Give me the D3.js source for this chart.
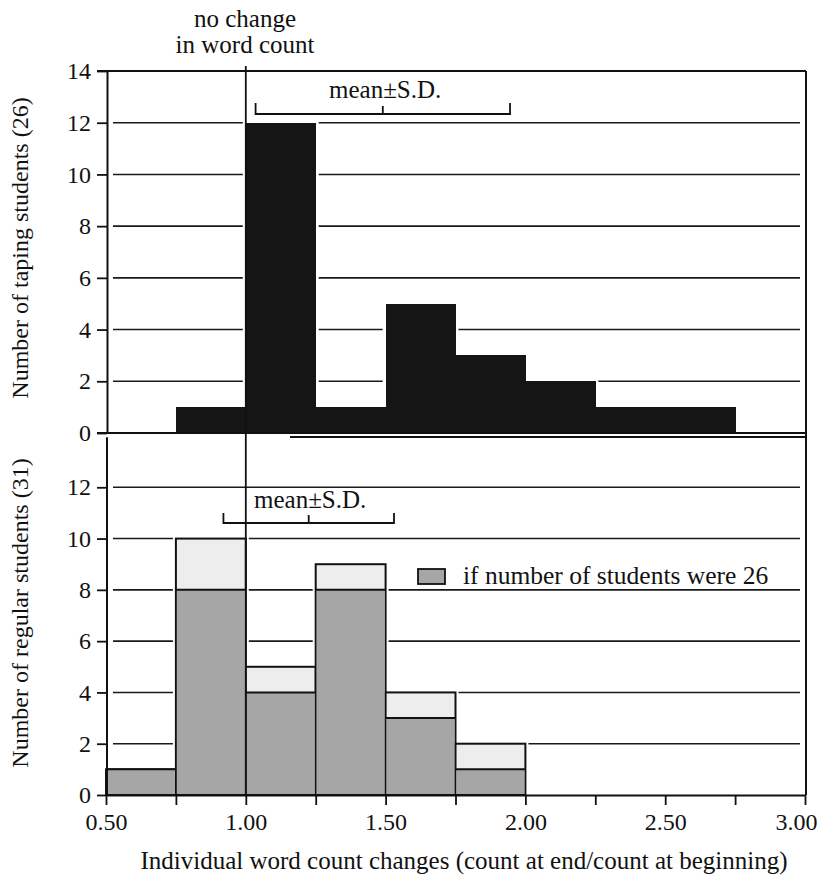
<!DOCTYPE html>
<html>
<head>
<meta charset="utf-8">
<script src="https://cdn.jsdelivr.net/npm/d3@7"></script>
<style>
  body { margin: 0; background: #fff; }
  svg { display: block; font-family: 'Liberation Serif', 'DejaVu Serif', serif; }
</style>
</head>
<body>
<svg></svg>
<script>
const width = 820
const height = 877

// bins of 0.25 from 0.50 to 3.00
const binEdges = [0.5, 0.75, 1.0, 1.25, 1.5, 1.75, 2.0, 2.25, 2.5, 2.75, 3.0]
const tapingCounts = [0, 1, 12, 1, 5, 3, 2, 1, 1, 0]
const regularCounts = [1, 10, 5, 9, 4, 2, 0, 0, 0, 0]
const regularScaled = [1, 8, 4, 8, 3, 1, 0, 0, 0, 0]

const tapingMean = 1.49
const tapingSD = 0.455
const regularMean = 1.225
const regularSD = 0.305

const xTicks = [0.5, 0.75, 1.0, 1.25, 1.5, 1.75, 2.0, 2.25, 2.5, 2.75, 3.0]
const xLabels = [0.5, 1.0, 1.5, 2.0, 2.5, 3.0]
const topYTicks = [0, 2, 4, 6, 8, 10, 12, 14]
const botYTicks = [0, 2, 4, 6, 8, 10, 12]
const gridValues = [2, 4, 6, 8, 10, 12]

const svg = d3.select('svg').attr('width', width).attr('height', height)

const x = d3.scaleLinear().domain([0.5, 3]).range([106, 805])
const yTop = d3.scaleLinear().domain([0, 14]).range([433, 71])
const yBot = d3.scaleLinear().domain([0, 14]).range([795, 436])

const bins = tapingCounts.map((c, i) => ({
  x0: binEdges[i],
  x1: binEdges[i + 1],
  taping: c,
  regular: regularCounts[i],
  scaled: regularScaled[i],
}))

// gridlines
svg.append('g')
  .selectAll('line')
  .data(gridValues)
  .join('line')
  .attr('x1', 113).attr('x2', 800)
  .attr('y1', (d) => yTop(d)).attr('y2', (d) => yTop(d))
  .attr('stroke', '#1a1a1a').attr('stroke-width', 1.6)
svg.append('g')
  .selectAll('line')
  .data(gridValues)
  .join('line')
  .attr('x1', 113).attr('x2', 800)
  .attr('y1', (d) => yBot(d)).attr('y2', (d) => yBot(d))
  .attr('stroke', '#1a1a1a').attr('stroke-width', 1.6)

// top bars (white halo first so gridlines stop short of bars)
const topBins = bins.filter((d) => d.taping > 0)
svg.append('g')
  .selectAll('rect')
  .data(topBins)
  .join('rect')
  .attr('x', (d) => x(d.x0) - 3)
  .attr('y', (d) => yTop(d.taping) - 3)
  .attr('width', (d) => x(d.x1) - x(d.x0) + 6)
  .attr('height', (d) => yTop(0) - yTop(d.taping) + 3)
  .attr('fill', '#fff')
svg.append('g')
  .attr('shape-rendering', 'crispEdges')
  .selectAll('rect')
  .data(topBins)
  .join('rect')
  .attr('x', (d) => x(d.x0))
  .attr('y', (d) => yTop(d.taping))
  .attr('width', (d) => x(d.x1) - x(d.x0) + 0.6)
  .attr('height', (d) => yTop(0) - yTop(d.taping))
  .attr('fill', '#151515')

// bottom bars
const botBins = bins.filter((d) => d.regular > 0)
svg.append('g')
  .selectAll('rect')
  .data(botBins)
  .join('rect')
  .attr('x', (d) => x(d.x0) - 3)
  .attr('y', (d) => yBot(d.regular) - 3)
  .attr('width', (d) => x(d.x1) - x(d.x0) + 6)
  .attr('height', (d) => yBot(0) - yBot(d.regular) + 3)
  .attr('fill', '#fff')
svg.append('g')
  .selectAll('rect')
  .data(botBins)
  .join('rect')
  .attr('x', (d) => x(d.x0))
  .attr('y', (d) => yBot(d.regular))
  .attr('width', (d) => x(d.x1) - x(d.x0))
  .attr('height', (d) => yBot(0) - yBot(d.regular))
  .attr('fill', '#ededed')
  .attr('stroke', '#111').attr('stroke-width', 2)
svg.append('g')
  .selectAll('rect')
  .data(botBins)
  .join('rect')
  .attr('x', (d) => x(d.x0) + 1)
  .attr('y', (d) => yBot(d.scaled))
  .attr('width', (d) => x(d.x1) - x(d.x0) - 2)
  .attr('height', (d) => yBot(0) - yBot(d.scaled) - 1)
  .attr('fill', '#a6a6a6')
svg.append('g')
  .selectAll('line')
  .data(botBins)
  .join('line')
  .attr('x1', (d) => x(d.x0)).attr('x2', (d) => x(d.x1))
  .attr('y1', (d) => yBot(d.scaled)).attr('y2', (d) => yBot(d.scaled))
  .attr('stroke', '#111').attr('stroke-width', 2)

// frame
const frame = svg.append('g').attr('stroke', '#111').attr('stroke-width', 2).attr('fill', 'none')
frame.append('line').attr('x1', 97).attr('x2', 806).attr('y1', yTop(14)).attr('y2', yTop(14))
frame.append('line').attr('x1', 806).attr('x2', 806).attr('y1', yTop(14)).attr('y2', yBot(0))
frame.append('line').attr('x1', 290).attr('x2', 806).attr('y1', 437).attr('y2', 437)

// no change line at 1.00
svg.append('line')
  .attr('x1', x(1)).attr('x2', x(1))
  .attr('y1', 66).attr('y2', yBot(0))
  .attr('stroke', '#111').attr('stroke-width', 1.8)

// axes
const styleAxis = (g) => {
  g.attr('font-size', null).attr('font-family', null)
  g.select('.domain').attr('stroke', '#111').attr('stroke-width', 2)
  g.selectAll('.tick line').attr('stroke', '#111').attr('stroke-width', 1.8)
  g.selectAll('.tick text').attr('fill', '#111').style('font-size', '24px')
}
svg.append('g')
  .attr('transform', 'translate(107,0)')
  .call(d3.axisLeft(yTop).tickValues(topYTicks).tickSize(10).tickSizeOuter(0).tickPadding(6))
  .call(styleAxis)
svg.append('g')
  .attr('transform', 'translate(107,0)')
  .call(d3.axisLeft(yBot).tickValues(botYTicks).tickSize(10).tickSizeOuter(0).tickPadding(6))
  .call(styleAxis)
  .call((g) => g.select('.domain').attr('d', `M0,${yBot(13.95)}V${yBot(0)}`))
svg.append('g')
  .attr('transform', `translate(0,${yTop(0)})`)
  .call((g) => g.append('line').attr('x1', 97).attr('x2', 806).attr('stroke', '#111').attr('stroke-width', 2))
svg.append('g')
  .attr('transform', `translate(0,${yBot(0)})`)
  .call(d3.axisBottom(x).tickValues(xTicks).tickSize(10).tickSizeOuter(0).tickPadding(8)
    .tickFormat((d) => (xLabels.includes(d) ? d3.format('.2f')(d) : '')))
  .call(styleAxis)
  .call((g) => g.selectAll('.tick text').filter((d) => d === 3).attr('text-anchor', 'end').attr('dx', 12))

// mean ± S.D. brackets
function bracket(mean, sd, yy, endH, midH, labelX, labelY) {
  const g = svg.append('g').attr('stroke', '#111').attr('stroke-width', 1.8).attr('fill', 'none')
  g.append('path').attr('d', `M${x(mean - sd)},${yy - endH}V${yy}H${x(mean + sd)}V${yy - endH}`)
  g.append('line').attr('x1', x(mean)).attr('x2', x(mean)).attr('y1', yy - midH).attr('y2', yy + 1)
  svg.append('text')
    .attr('x', labelX).attr('y', labelY)
    .style('font-size', '25px').attr('fill', '#111')
    .text('mean±S.D.')
}
bracket(tapingMean, tapingSD, 114, 11, 8, 329, 98)
bracket(regularMean, regularSD, 523, 10, 8, 254, 508)

// annotation
svg.append('text')
  .attr('x', 245).attr('y', 27).attr('text-anchor', 'middle')
  .style('font-size', '25px').attr('fill', '#111').text('no change')
svg.append('text')
  .attr('x', 245).attr('y', 53).attr('text-anchor', 'middle')
  .style('font-size', '25px').attr('fill', '#111').text('in word count')

// legend
svg.append('rect')
  .attr('x', 418).attr('y', 569).attr('width', 27).attr('height', 15)
  .attr('fill', '#a6a6a6').attr('stroke', '#111').attr('stroke-width', 1.8)
svg.append('text')
  .attr('x', 463).attr('y', 584)
  .style('font-size', '25.5px').attr('fill', '#111')
  .text('if number of students were 26')

// axis titles
svg.append('text')
  .attr('transform', 'translate(28,248) rotate(-90)')
  .attr('text-anchor', 'middle')
  .style('font-size', '24px').attr('fill', '#111')
  .text('Number of taping students (26)')
svg.append('text')
  .attr('transform', 'translate(28,613) rotate(-90)')
  .attr('text-anchor', 'middle')
  .style('font-size', '24px').attr('fill', '#111')
  .text('Number of regular students (31)')
svg.append('text')
  .attr('x', 464).attr('y', 869).attr('text-anchor', 'middle')
  .style('font-size', '25px').attr('fill', '#111')
  .text('Individual word count changes (count at end/count at beginning)')
</script>
</body>
</html>
